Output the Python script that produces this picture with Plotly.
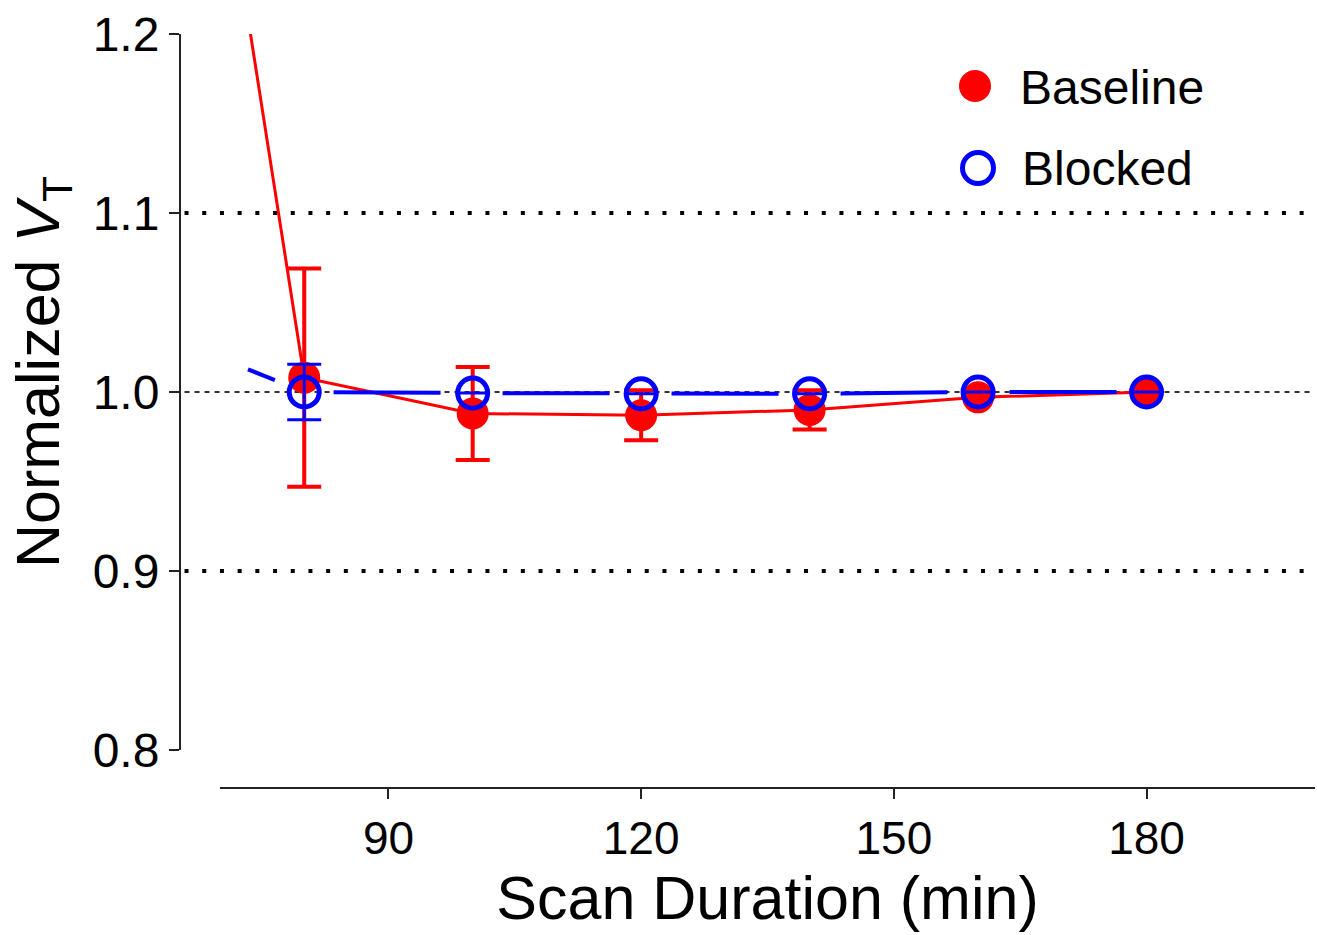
import plotly.graph_objects as go

# Data
scan_duration = [60, 80, 100, 120, 140, 160, 180]
baseline_vt = [1.61, 1.008, 0.988, 0.987, 0.990, 0.997, 1.000]
baseline_err = [None, 0.061, 0.026, 0.014, 0.011, None, None]
blocked_vt = [1.038, 1.000, 0.9994, 0.999, 0.999, 1.000, 1.000]
blocked_err = [None, 0.0155, None, None, None, None, None]

x_ticks = [90, 120, 150, 180]
y_ticks = [0.8, 0.9, 1.0, 1.1, 1.2]
ref_lines_dotted = [0.9, 1.1]
ref_line_unity = 1.0

FONT = "Arial, Liberation Sans, sans-serif"
W, H = 1317, 935
ML, MR, MT, MB = 180, 2, 34, 147
PW = W - ML - MR
PH = H - MT - MB

fig = go.Figure()

fig.add_trace(go.Scatter(
    x=scan_duration, y=baseline_vt, name="Baseline", mode="lines+markers",
    line=dict(color="#ff0000", width=3),
    marker=dict(symbol="circle", size=32, color="#ff0000"),
    error_y=dict(type="data", array=baseline_err, visible=True,
                 color="#ff0000", thickness=4, width=17),
    showlegend=False,
))

fig.add_trace(go.Scatter(
    x=scan_duration, y=blocked_vt, name="Blocked", mode="lines+markers",
    line=dict(color="#0000ff", width=4,
              dash="0px,121px,29px,61px,107px,62px,107px,62px,107px,62px,107px,62px,107px,62px"),
    marker=dict(symbol="circle-open", size=30, color="#0000ff",
                line=dict(width=5, color="#0000ff")),
    error_y=dict(type="data", array=blocked_err, visible=True,
                 color="#0000ff", thickness=3, width=17),
    showlegend=False,
))

shapes = []
for yv in ref_lines_dotted:
    shapes.append(dict(type="line", xref="paper", yref="y", x0=0.004, x1=0.996,
                       y0=yv, y1=yv, layer="below",
                       line=dict(color="black", width=4, dash="4px,13.7px")))
shapes.append(dict(type="line", xref="paper", yref="y", x0=0.004, x1=0.996,
                   y0=ref_line_unity, y1=ref_line_unity, layer="below",
                   line=dict(color="#333333", width=2, dash="5px,5px")))


def px_x(p):
    return (p - ML) / PW


def px_y(p):
    return 1 - (p - MT) / PH


# custom legend markers (pixel-sized circles)
shapes.append(dict(type="circle", xref="paper", yref="paper",
                   xsizemode="pixel", ysizemode="pixel",
                   xanchor=px_x(975), yanchor=px_y(86),
                   x0=-16, x1=16, y0=-16, y1=16,
                   fillcolor="#ff0000", line=dict(width=0)))
shapes.append(dict(type="circle", xref="paper", yref="paper",
                   xsizemode="pixel", ysizemode="pixel",
                   xanchor=px_x(978), yanchor=px_y(168),
                   x0=-15.5, x1=15.5, y0=-15.5, y1=15.5,
                   fillcolor="rgba(0,0,0,0)", line=dict(width=5, color="#0000ff")))

annotations = [
    dict(text="Baseline", xref="paper", yref="paper", x=px_x(1018), y=px_y(87),
         xanchor="left", yanchor="middle", showarrow=False,
         font=dict(family=FONT, size=48, color="black")),
    dict(text="Blocked", xref="paper", yref="paper", x=px_x(1020), y=px_y(168),
         xanchor="left", yanchor="middle", showarrow=False,
         font=dict(family=FONT, size=48, color="black")),
    dict(text="Normalized <i>V</i><sub>T</sub>", xref="paper", yref="paper",
         x=px_x(42), y=px_y(372), xanchor="center", yanchor="middle",
         textangle=-90, showarrow=False,
         font=dict(family=FONT, size=61, color="black")),
]

fig.update_layout(
    width=W, height=H,
    margin=dict(l=ML, r=MR, t=MT, b=MB, pad=0),
    paper_bgcolor="white", plot_bgcolor="white",
    font=dict(family=FONT, color="black"),
    shapes=shapes, annotations=annotations,
    xaxis=dict(
        range=[70, 200], domain=[(220 - ML) / PW, 1],
        anchor="free", position=0,
        tickvals=x_ticks, ticktext=[str(v) for v in x_ticks],
        ticks="outside", ticklen=10, tickwidth=2, tickcolor="#222",
        showline=True, linewidth=2, linecolor="#222",
        showgrid=False, zeroline=False,
        tickfont=dict(family=FONT, size=46, color="black"),
        title=dict(text="Scan Duration (min)", standoff=12,
                   font=dict(family=FONT, size=61, color="black")),
    ),
    yaxis=dict(
        range=[0.8, 1.2], domain=[(788 - 750) / PH, 1],
        anchor="free", position=0,
        tickvals=y_ticks, ticktext=["0.8", "0.9", "1.0", "1.1", "1.2"],
        ticks="outside", ticklen=10, tickwidth=2, tickcolor="#222",
        showline=True, linewidth=2, linecolor="#222",
        showgrid=False, zeroline=False,
        tickfont=dict(family=FONT, size=48, color="black"),
    ),
)

fig.write_html(
    "out.html",
    config={"displayModeBar": False},
    post_script="document.body.style.margin='0';document.body.style.overflow='hidden';",
)
